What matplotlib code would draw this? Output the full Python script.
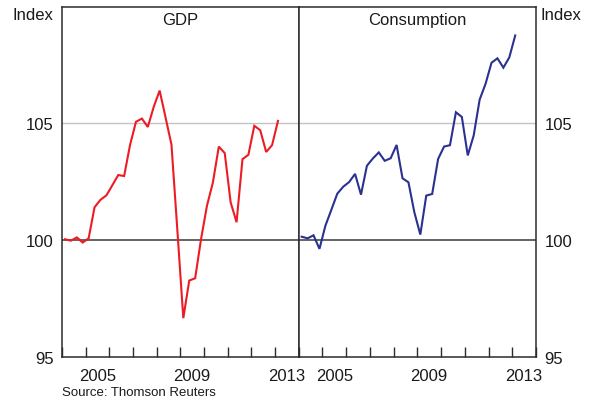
import matplotlib
matplotlib.use("Agg")
import matplotlib.pyplot as plt
import numpy as np

plt.rcParams['font.family'] = ['Liberation Sans', 'DejaVu Sans']

# Quarterly data, 2004Q1 .. 2013Q1 (index)
start_year = 2004
gdp = [100.03, 99.97, 100.11, 99.89, 100.07, 101.40, 101.72, 101.91, 102.34, 102.78,
       102.74, 104.07, 105.06, 105.20, 104.84, 105.70, 106.40, 105.25, 104.08, 100.40,
       96.65, 98.26, 98.36, 100.04, 101.47, 102.46, 104.00, 103.72, 101.61, 100.76,
       103.46, 103.65, 104.89, 104.70, 103.77, 104.06, 105.10]
consumption = [100.14, 100.07, 100.20, 99.62, 100.61, 101.29, 101.98, 102.28, 102.48, 102.83,
               101.94, 103.18, 103.49, 103.75, 103.39, 103.50, 104.07, 102.64, 102.47, 101.18,
               100.23, 101.90, 101.97, 103.47, 104.00, 104.06, 105.47, 105.27, 103.62, 104.48,
               106.01, 106.69, 107.59, 107.78, 107.38, 107.82, 108.76]
panel_titles = ["GDP", "Consumption"]
year_labels = [2005, 2009, 2013]
ytick_vals = [95, 100, 105]

x = start_year + 0.125 + 0.25 * np.arange(len(gdp))

W, H = 596, 402
fig = plt.figure(figsize=(W / 100, H / 100), dpi=100)

bottom = (H - 357.7) / H
height = (357.7 - 7.5) / H
ax1 = fig.add_axes([62 / W, bottom, 236.7 / W, height])
ax2 = fig.add_axes([298.7 / W, bottom, 237.3 / W, height])

spine_col = '#2b2b2b'
for ax, data, col, title in [(ax1, gdp, '#ed1c24', panel_titles[0]),
                             (ax2, consumption, '#2b3190', panel_titles[1])]:
    ax.axhline(105, color='#c3c3c3', lw=1.0, zorder=1)
    ax.axhline(100, color='#3a3a3a', lw=1.1, zorder=1)
    ax.plot(x, data, color=col, lw=1.5, zorder=3, solid_joinstyle='miter')
    ax.set_xlim(2004, 2014)
    ax.set_ylim(95, 110)
    for s in ax.spines.values():
        s.set_color(spine_col)
        s.set_linewidth(1.1)
    ax.set_xticks(np.arange(2004, 2015))
    ax.set_xticklabels([])
    ax.set_xticks([y + 0.5 for y in year_labels], minor=True)
    ax.set_xticklabels([str(y) for y in year_labels], minor=True, fontsize=12, color='#1a1a1a')
    ax.tick_params(axis='x', which='major', direction='in', length=7, width=1.0, color=spine_col,
                   top=False, bottom=True)
    ax.tick_params(axis='x', which='minor', length=0, pad=8)
    ax.set_yticks(ytick_vals)
    ax.text(0.5, 0.962, title, transform=ax.transAxes, ha='center', va='center',
            fontsize=12, color='#1a1a1a')

ax1.tick_params(axis='y', length=0, pad=6, labelsize=12, labelcolor='#1a1a1a',
                left=True, right=False, labelleft=True, labelright=False)
ax2.tick_params(axis='y', length=0, pad=6, labelsize=12, labelcolor='#1a1a1a',
                left=False, right=True, labelleft=False, labelright=True)

fig.text(53 / W, 1 - 15 / H, "Index", ha='right', va='center', fontsize=12, color='#1a1a1a')
fig.text(541 / W, 1 - 15 / H, "Index", ha='left', va='center', fontsize=12, color='#1a1a1a')
fig.text(62 / W, 1 - 393 / H, "Source: Thomson Reuters", ha='left', va='center',
         fontsize=9.5, color='#1a1a1a')

fig.savefig("out.png", dpi=100)
